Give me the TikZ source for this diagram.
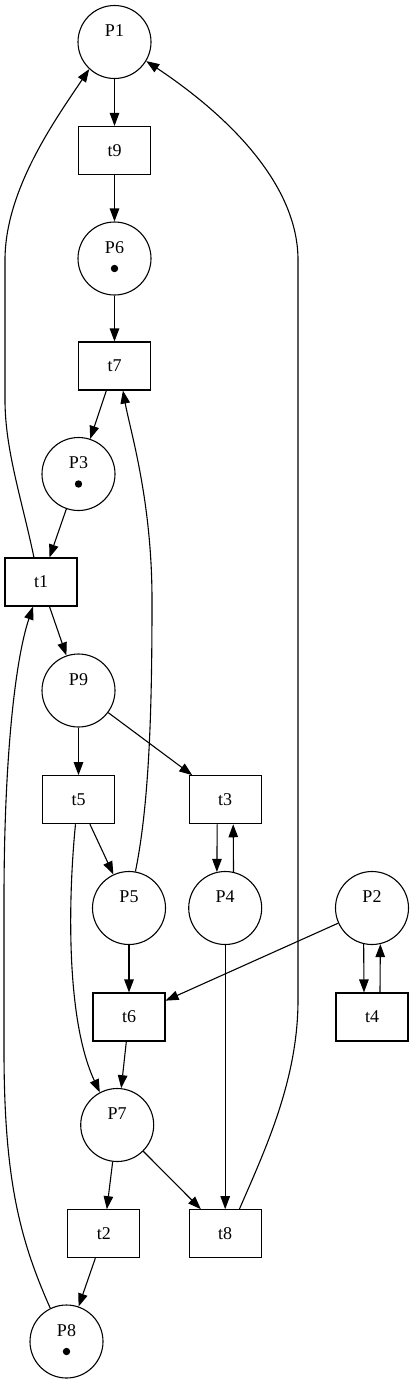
\documentclass[tikz,border=0pt]{standalone}
\usepackage{fontspec}
\setmainfont{Liberation Serif}
\usetikzlibrary{arrows.meta}
\tikzset{
  place/.style={circle,draw,line width=1.1pt,minimum size=73pt,inner sep=0pt},
  trans/.style={rectangle,draw,line width=1.1pt,minimum width=72pt,minimum height=48pt,inner sep=0pt},
  plbl/.style={yshift=11pt,inner sep=0pt},
  arc/.style={line width=1.1pt,-{Triangle[length=13pt,width=9.5pt]}},
}
\newcommand{\token}[1]{\fill ([yshift=-10pt]#1.center) circle (3.7pt);}

\begin{document}
\begin{tikzpicture}[x=1pt,y=-1pt,font=\fontsize{18}{21}\selectfont]
  \useasboundingbox (0,0) rectangle (413,1384);
  % places
  \node[place,label={[plbl]center:P1}] (P1) at (114.5,42) {};
  \node[place,label={[plbl]center:P6}] (P6) at (114.5,258.5) {};
  \node[place,label={[plbl]center:P3}] (P3) at (78.5,474) {};
  \node[place,label={[plbl]center:P9}] (P9) at (78.5,690.5) {};
  \node[place,label={[plbl]center:P5}] (P5) at (129,908) {};
  \node[place,label={[plbl]center:P4}] (P4) at (225.2,908) {};
  \node[place,label={[plbl]center:P2}] (P2) at (372,908) {};
  \node[place,label={[plbl]center:P7}] (P7) at (117.2,1125) {};
  \node[place,label={[plbl]center:P8}] (P8) at (66.5,1341.5) {};
  \token{P6}
  \token{P3}
  \token{P8}
  % transitions
  \node[trans] (t9) at (114.5,150.5) {t9};
  \node[trans] (t7) at (114.5,366) {t7};
  \node[trans] (t1) at (41,582) {t1};
  \node[trans] (t5) at (78.5,799.7) {t5};
  \node[trans] (t3) at (225.2,799.7) {t3};
  \node[trans] (t6) at (129,1017) {t6};
  \node[trans] (t4) at (372,1017) {t4};
  \node[trans] (t2) at (103.8,1233.7) {t2};
  \node[trans] (t8) at (225.2,1233.7) {t8};
  % arcs
  \draw[arc] (P1) -- (t9);
  \draw[arc] (t9) -- (P6);
  \draw[arc] (P6) -- (t7);
  \draw[arc] (t7) -- (P3);
  \draw[arc] (P3) -- (t1);
  \draw[arc] (t1) -- (P9);
  \draw[arc] (P9) -- (t5);
  \draw[arc] (P9) -- (t3);
  \draw[arc] (t5) -- (P5);
  \draw[arc] (P5) -- (t6);
  \draw[arc] (P2) -- (t6);
  \draw[arc] (t6) -- (P7);
  \draw[arc] (P7) -- (t2);
  \draw[arc] (P7) -- (t8);
  \draw[arc] (t2) -- (P8);
  \draw[arc] (P4) -- (t8);
  \draw[arc] ([xshift=-8pt]t3.south) -- (P4.103);
  \draw[arc] (P4.77) -- ([xshift=8pt]t3.south);
  \draw[arc] (P2.257) -- ([xshift=-8pt]t4.north);
  \draw[arc] ([xshift=8pt]t4.north) -- (P2.283);
  \draw[arc] (t1.106) .. controls (22,500) and (5,450) .. (5,400) -- (5,260)
    .. controls (5,190) and (55,120) .. (P1.227);
  \draw[arc] (t8.60) .. controls (265,1150) and (298,1080) .. (298,1000) -- (298,260)
    .. controls (298,180) and (220,110) .. (P1.-31);
  \draw[arc] (P5.80) .. controls (150,800) and (152,700) .. (152,600)
    .. controls (152,500) and (130,430) .. (t7.-71);
  \draw[arc] (P8.116) .. controls (20,1240) and (4,1180) .. (4,1050) -- (4,900)
    .. controls (4,760) and (15,660) .. (t1.252);
  \draw[arc] (t5.263) .. controls (68,900) and (66,1020) .. (P7.118);
\end{tikzpicture}
\end{document}
